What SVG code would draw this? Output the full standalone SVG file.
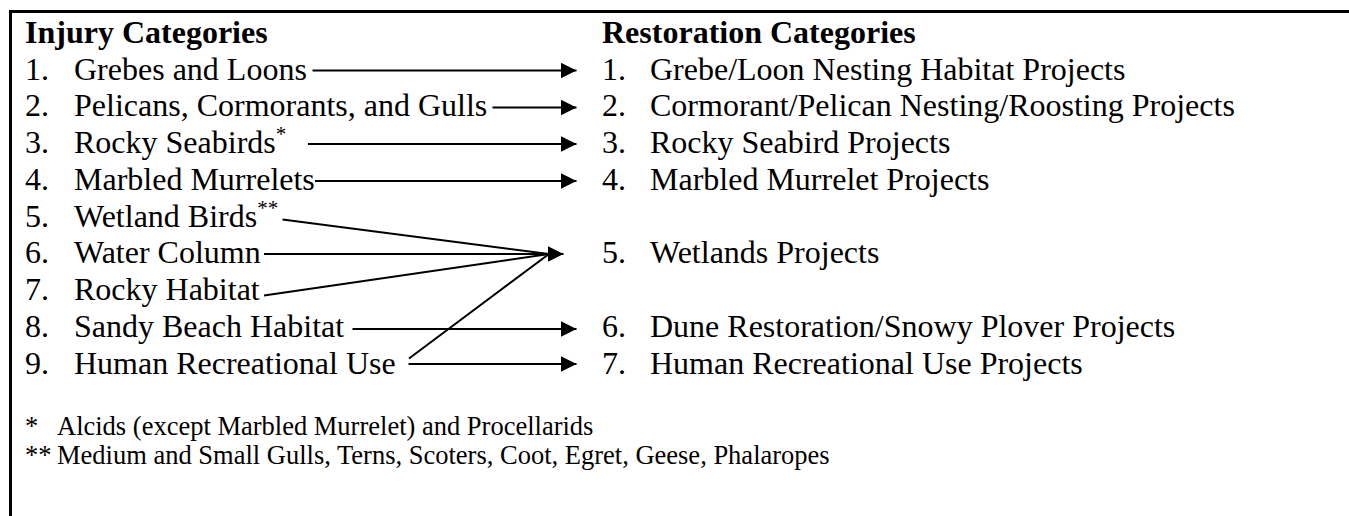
<svg xmlns="http://www.w3.org/2000/svg" width="1349" height="516" viewBox="0 0 1349 516">
<style>
text { font-family: "Liberation Serif", "Times New Roman", serif; fill: #000; }
.h { font-size: 32px; font-weight: bold; }
.t { font-size: 32px; }
.sup { font-size: 21px; }
.fn { font-size: 26.5px; }
.c { stroke: #000; stroke-width: 2; fill: none; }
.border { stroke: #000; stroke-width: 3; fill: none; }
</style>
<defs>
<marker id="ah" markerUnits="userSpaceOnUse" markerWidth="16" markerHeight="16" refX="15" refY="7.5" orient="auto" viewBox="0 0 15 15">
<path d="M0,0 L15,7.5 L0,15 z" fill="#000"/>
</marker>
</defs>
<rect width="1349" height="516" fill="#fff"/>
<path class="border" d="M10.5,516 L10.5,11.5 L1349,11.5"/>

<g id="injury-header"><text class="h" x="25" y="43">Injury Categories</text></g>
<g id="restoration-header"><text class="h" x="602" y="43">Restoration Categories</text></g>

<g id="inj1"><text class="t" x="25" y="79.5">1.</text><text class="t" x="74" y="79.5">Grebes and Loons</text></g>
<g id="inj2"><text class="t" x="25" y="116.25">2.</text><text class="t" x="74" y="116.25">Pelicans, Cormorants, and Gulls</text></g>
<g id="inj3"><text class="t" x="25" y="153">3.</text><text class="t" x="74" y="153">Rocky Seabirds<tspan class="sup" dy="-12">*</tspan></text></g>
<g id="inj4"><text class="t" x="25" y="189.75">4.</text><text class="t" x="74" y="189.75">Marbled Murrelets</text></g>
<g id="inj5"><text class="t" x="25" y="226.5">5.</text><text class="t" x="74" y="226.5">Wetland Birds<tspan class="sup" dy="-12">**</tspan></text></g>
<g id="inj6"><text class="t" x="25" y="263.25">6.</text><text class="t" x="74" y="263.25">Water Column</text></g>
<g id="inj7"><text class="t" x="25" y="300">7.</text><text class="t" x="74" y="300">Rocky Habitat</text></g>
<g id="inj8"><text class="t" x="25" y="336.75">8.</text><text class="t" x="74" y="336.75">Sandy Beach Habitat</text></g>
<g id="inj9"><text class="t" x="25" y="373.5">9.</text><text class="t" x="74" y="373.5">Human Recreational Use</text></g>

<g id="res1"><text class="t" x="602" y="79.5">1.</text><text class="t" x="650" y="79.5">Grebe/Loon Nesting Habitat Projects</text></g>
<g id="res2"><text class="t" x="602" y="116.25">2.</text><text class="t" x="650" y="116.25">Cormorant/Pelican Nesting/Roosting Projects</text></g>
<g id="res3"><text class="t" x="602" y="153">3.</text><text class="t" x="650" y="153">Rocky Seabird Projects</text></g>
<g id="res4"><text class="t" x="602" y="189.75">4.</text><text class="t" x="650" y="189.75">Marbled Murrelet Projects</text></g>
<g id="res5"><text class="t" x="602" y="263.25">5.</text><text class="t" x="650" y="263.25">Wetlands Projects</text></g>
<g id="res6"><text class="t" x="602" y="336.75">6.</text><text class="t" x="650" y="336.75">Dune Restoration/Snowy Plover Projects</text></g>
<g id="res7"><text class="t" x="602" y="373.5">7.</text><text class="t" x="650" y="373.5">Human Recreational Use Projects</text></g>

<g id="connectors">
<line class="c" x1="312.5" y1="70.5" x2="576.5" y2="70.5" marker-end="url(#ah)"/>
<line class="c" x1="492.5" y1="107.5" x2="576.5" y2="107.5" marker-end="url(#ah)"/>
<line class="c" x1="308" y1="144" x2="576.5" y2="144" marker-end="url(#ah)"/>
<line class="c" x1="315" y1="181" x2="576.5" y2="181" marker-end="url(#ah)"/>
<line class="c" x1="282.5" y1="219.5" x2="549" y2="254"/>
<line class="c" x1="264" y1="254" x2="563.5" y2="254" marker-end="url(#ah)"/>
<line class="c" x1="264" y1="295.5" x2="549" y2="254"/>
<line class="c" x1="352.5" y1="329" x2="576.5" y2="329" marker-end="url(#ah)"/>
<line class="c" x1="409" y1="358.5" x2="549" y2="254"/>
<line class="c" x1="408.5" y1="364" x2="576.5" y2="364" marker-end="url(#ah)"/>
</g>

<g id="footnotes">
<text class="fn" x="25" y="435">*</text><text class="fn" x="57" y="435">Alcids (except Marbled Murrelet) and Procellarids</text>
<text class="fn" x="25" y="464">**</text><text class="fn" x="57" y="464">Medium and Small Gulls, Terns, Scoters, Coot, Egret, Geese, Phalaropes</text>
</g>
</svg>
